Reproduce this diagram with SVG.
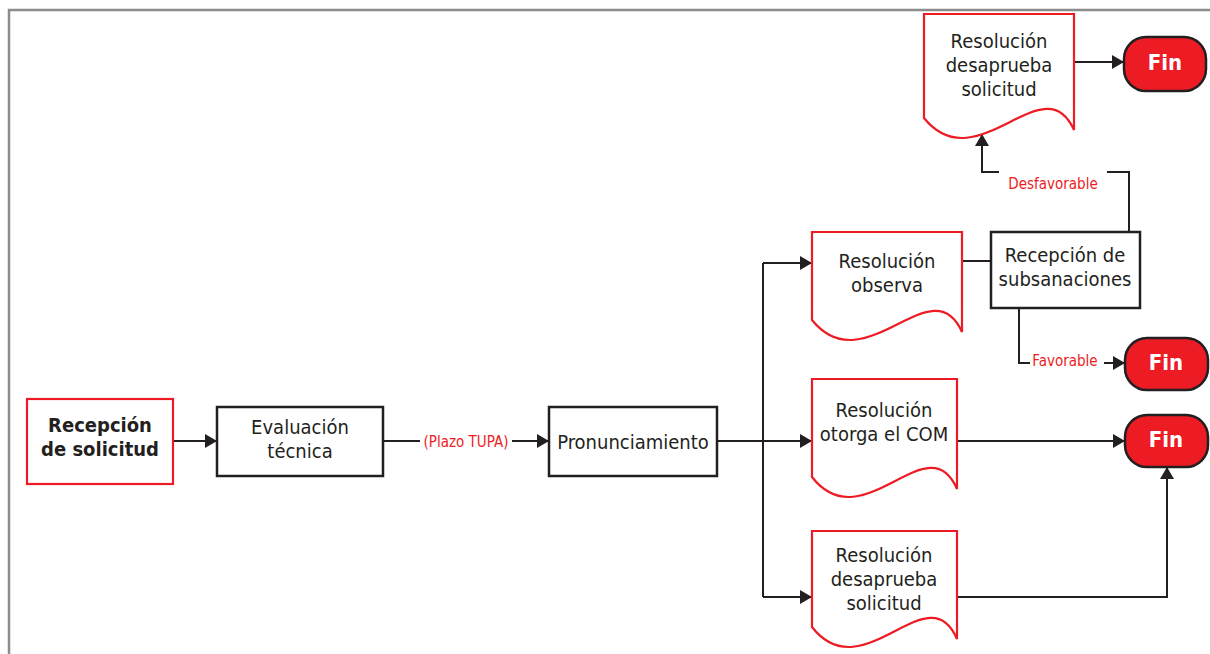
<svg xmlns="http://www.w3.org/2000/svg" width="1210" height="654" viewBox="0 0 1210 654">
  <style>
    .frame { fill: none; stroke: #8c8c8c; stroke-width: 2.5; }
    .box { fill: #ffffff; stroke: #231f20; stroke-width: 2.5; }
    .rbox { fill: #ffffff; stroke: #ed1c24; stroke-width: 2.2; }
    .doc { fill: #ffffff; stroke: #ed1c24; stroke-width: 2.2; }
    .fin { fill: #ed1c24; stroke: #231f20; stroke-width: 2.5; }
    .line { fill: none; stroke: #231f20; stroke-width: 2; }
    .arrow { marker-end: url(#head); }
    text { font-family: "Liberation Sans Narrow", "DejaVu Sans Condensed", "Liberation Sans", sans-serif; text-anchor: middle; }
    .t { font-size: 20px; fill: #231f20; }
    .tb { font-size: 20px; fill: #231f20; font-weight: bold; }
    .tf { font-size: 22px; fill: #ffffff; font-weight: bold; }
    .lbl { font-size: 15px; fill: #ed1c24; }
  </style>
  <defs>
    <marker id="head" viewBox="0 0 12 14" refX="12" refY="7" markerWidth="12" markerHeight="14" markerUnits="userSpaceOnUse" orient="auto">
      <path d="M0,0 L12,7 L0,14 Z" fill="#231f20"/>
    </marker>
  </defs>

  <!-- page frame -->
  <path class="frame" d="M9,654 V10 H1210"/>

  <!-- connectors -->
  <g id="connectors">
    <path class="line arrow" d="M173,441 H217"/>
    <path class="line" d="M383,441 H420"/>
    <path class="line arrow" d="M512,441 H549"/>
    <path class="line arrow" d="M717,441 H812"/>
    <path class="line" d="M763,263 V597"/>
    <path class="line arrow" d="M763,263 H812"/>
    <path class="line arrow" d="M763,597 H812"/>
    <path class="line" d="M962,261 H991"/>
    <path class="line" d="M1129,232 V172 H1107"/>
    <path class="line arrow" d="M999,172 H982 V134"/>
    <path class="line" d="M1019,308 V363 H1030"/>
    <path class="line arrow" d="M1104,363 H1125"/>
    <path class="line arrow" d="M1074,62 H1124"/>
    <path class="line arrow" d="M957,441 H1125"/>
    <path class="line arrow" d="M957,597 H1167 V467"/>
    <text class="lbl" x="466" y="447">(Plazo TUPA)</text>
    <text class="lbl" x="1053" y="189">Desfavorable</text>
    <text class="lbl" x="1065" y="366">Favorable</text>
  </g>

  <g id="recepcion-solicitud">
    <rect class="rbox" x="27" y="399" width="146" height="85"/>
    <text class="tb" x="100" y="432">Recepción</text>
    <text class="tb" x="100" y="456">de solicitud</text>
  </g>

  <g id="evaluacion-tecnica">
    <rect class="box" x="217" y="407" width="166" height="69"/>
    <text class="t" x="300" y="434">Evaluación</text>
    <text class="t" x="300" y="458">técnica</text>
  </g>

  <g id="pronunciamiento">
    <rect class="box" x="549" y="407" width="168" height="69"/>
    <text class="t" x="633" y="449">Pronunciamiento</text>
  </g>

  <g id="resolucion-observa">
    <path class="doc" d="M812,232 H962 V332 C932,265 864.5,385 812,320 Z"/>
    <text class="t" x="887" y="268">Resolución</text>
    <text class="t" x="887" y="292">observa</text>
  </g>

  <g id="recepcion-subsanaciones">
    <rect class="box" x="991" y="232" width="149" height="76"/>
    <text class="t" x="1065" y="262">Recepción de</text>
    <text class="t" x="1065" y="286">subsanaciones</text>
  </g>

  <g id="resolucion-desaprueba-1">
    <path class="doc" d="M924,14 H1074 V130 C1044,63 976.5,183 924,118 Z"/>
    <text class="t" x="999" y="48">Resolución</text>
    <text class="t" x="999" y="72">desaprueba</text>
    <text class="t" x="999" y="96">solicitud</text>
  </g>

  <g id="resolucion-otorga">
    <path class="doc" d="M812,379 H957 V489 C928,422 862.75,542 812,477 Z"/>
    <text class="t" x="884" y="417">Resolución</text>
    <text class="t" x="884" y="441">otorga el COM</text>
  </g>

  <g id="resolucion-desaprueba-2">
    <path class="doc" d="M812,531 H957 V639 C928,572 862.75,692 812,627 Z"/>
    <text class="t" x="884" y="562">Resolución</text>
    <text class="t" x="884" y="586">desaprueba</text>
    <text class="t" x="884" y="610">solicitud</text>
  </g>

  <g id="fin-1">
    <rect class="fin" x="1124" y="37" width="82" height="54" rx="22" ry="22"/>
    <text class="tf" x="1165" y="70">Fin</text>
  </g>

  <g id="fin-2">
    <rect class="fin" x="1125" y="338" width="83" height="52" rx="22" ry="22"/>
    <text class="tf" x="1166" y="370">Fin</text>
  </g>

  <g id="fin-3">
    <rect class="fin" x="1125" y="415" width="83" height="52" rx="22" ry="22"/>
    <text class="tf" x="1166" y="447">Fin</text>
  </g>
</svg>
